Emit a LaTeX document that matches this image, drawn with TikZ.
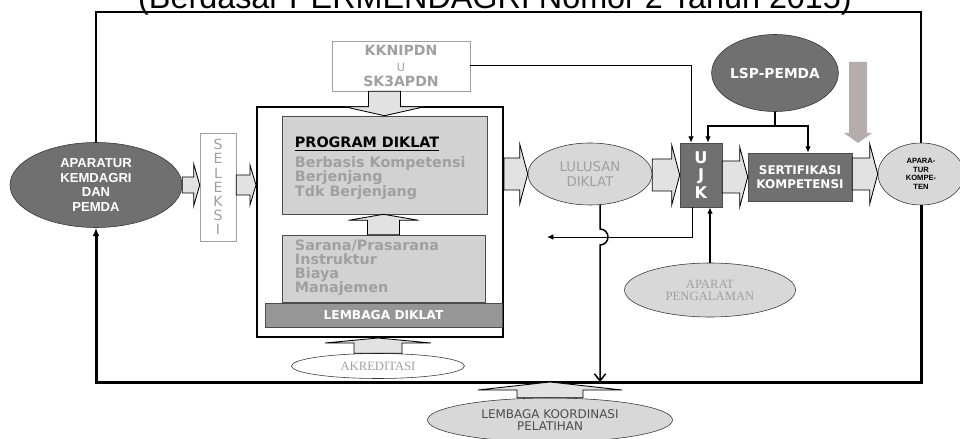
\documentclass[tikz,border=0pt]{standalone}
\usepackage{fontspec}
\setmainfont{Liberation Serif}
\setsansfont{DejaVu Sans}
\newfontfamily\arialfont{Liberation Sans}
\usepackage{tikz}
\usetikzlibrary{arrows.meta, positioning, calc, shapes.geometric}
\definecolor{AbuGelap}{RGB}{112,112,112}
\definecolor{AbuTerang}{RGB}{216,216,216}
\definecolor{AbuPanah}{RGB}{226,226,226}
\definecolor{AbuTeks}{RGB}{160,160,160}
\definecolor{AbuKotak}{RGB}{210,210,210}
\definecolor{AbuBatang}{RGB}{150,150,150}
\definecolor{AbuCoklat}{RGB}{181,172,172}
\newlength{\px}
\setlength{\px}{0.025cm}
% panah blok: gaya, dari, ke, setengah batang, setengah kepala, panjang kepala
\newcommand{\panahKanan}[6]{\path[#1] let \p1=#2, \p2=#3 in
	(\x1,{\y1+#4*\px}) -- ({\x2-#6*\px},{\y1+#4*\px}) -- ({\x2-#6*\px},{\y1+#5*\px})
	-- (\x2,\y1) -- ({\x2-#6*\px},{\y1-#5*\px}) -- ({\x2-#6*\px},{\y1-#4*\px})
	-- (\x1,{\y1-#4*\px}) -- cycle;}
\newcommand{\panahAtas}[6]{\path[#1] let \p1=#2, \p2=#3 in
	({\x1-#4*\px},\y1) -- ({\x1-#4*\px},{\y2-#6*\px}) -- ({\x1-#5*\px},{\y2-#6*\px})
	-- (\x1,\y2) -- ({\x1+#5*\px},{\y2-#6*\px}) -- ({\x1+#4*\px},{\y2-#6*\px})
	-- ({\x1+#4*\px},\y1) -- cycle;}
\newcommand{\panahBawah}[6]{\path[#1] let \p1=#2, \p2=#3 in
	({\x1-#4*\px},\y1) -- ({\x1-#4*\px},{\y2+#6*\px}) -- ({\x1-#5*\px},{\y2+#6*\px})
	-- (\x1,\y2) -- ({\x1+#5*\px},{\y2+#6*\px}) -- ({\x1+#4*\px},{\y2+#6*\px})
	-- ({\x1+#4*\px},\y1) -- cycle;}

\begin{document}
\begin{tikzpicture}[x=0.025cm, y=-0.025cm,
	elips/.style={ellipse, draw=black!80, inner sep=0pt, align=center},
	kotak/.style={rectangle, draw=black!70, inner sep=0pt, align=center},
	blok/.style={draw=black, fill=AbuPanah, line width=0.6pt},
	isi/.style={text=AbuTeks, font=\sffamily\bfseries\fontsize{10.2}{12}\selectfont},
	panah/.style={-{Latex[length=4.5pt,width=4pt]}},
	tipis/.style={line width=1*\px},
	sedang/.style={line width=1.5*\px},
	tebal/.style={line width=2*\px}]
	\useasboundingbox (0,0) rectangle (960,439);
	\clip (0,0) rectangle (960,439);
	% judul (terpotong di atas)
	\node[anchor=base, font=\arialfont\fontsize{23}{25}\selectfont] (judul) at (495,9)
		{(Berdasar PERMENDAGRI Nomor 2 Tahun 2015)};
	\coordinate (atas) at (0,12);
	\coordinate (bawah) at (0,382);
	\coordinate (ujung) at (547,237);
	% sisi kiri: aparatur dan seleksi
	\node[elips, fill=AbuGelap, text=white, minimum width=172*\px, minimum height=85*\px,
		font=\arialfont\bfseries\fontsize{9.3}{10.2}\selectfont] (aparatur) at (96,185)
		{APARATUR\\KEMDAGRI\\DAN\\PEMDA};
	\node[kotak, draw=AbuTeks, fill=white, minimum width=36*\px, minimum height=108*\px,
		text=AbuTeks, font=\sffamily\fontsize{10}{10.1}\selectfont] (seleksi) at (218,187)
		{S\\E\\L\\E\\K\\S\\I};
	% lembaga diklat dan program
	\node[draw, line width=2*\px, fill=white, minimum width=246*\px, minimum height=230*\px] (utama) at (380,222) {};
	\node[kotak, fill=AbuKotak, minimum width=205*\px, minimum height=98*\px] (program) at (384.5,165) {};
	\node[anchor=base west, font=\sffamily\bfseries\fontsize{10.2}{12}\selectfont] (judulprogram) at (290,148)
		{\underline{PROGRAM DIKLAT}};
	\foreach \t [count=\i] in {Berbasis Kompetensi, Berjenjang, Tdk Berjenjang}
		{\node[isi, anchor=base west] (program\i) at (290,153+14.5*\i) {\t};}
	\node[kotak, fill=AbuKotak, minimum width=203*\px, minimum height=67*\px] (sarana) at (383.5,268.5) {};
	\foreach \t [count=\i] in {{Sarana/Prasarana}, Instruktur, Biaya, Manajemen}
		{\node[isi, anchor=base west] (sarana\i) at (290,236+14*\i) {\t};}
	\node[kotak, fill=AbuBatang, minimum width=237*\px, minimum height=24*\px, text=white,
		font=\sffamily\bfseries\fontsize{8.7}{9}\selectfont] (lembaga) at (383.5,315) {LEMBAGA DIKLAT};
	\node[elips, fill=white, minimum width=173*\px, minimum height=25*\px, text=AbuTeks,
		font=\rmfamily\fontsize{9}{9}\selectfont] (akreditasi) at (378,366) {AKREDITASI};
	\node[kotak, draw=AbuTeks, fill=white, minimum width=138*\px, minimum height=50*\px, text=AbuTeks,
		font=\sffamily\bfseries\fontsize{10}{11}\selectfont] (kknipdn) at (401,66)
		{KKNIPDN\\{\mdseries\fontsize{8}{11}\selectfont U}\\SK3APDN};
	% sisi kanan: uji dan sertifikasi
	\node[elips, fill=AbuTerang, minimum width=124*\px, minimum height=62*\px, text=AbuTeks,
		font=\sffamily\fontsize{9.5}{10.5}\selectfont] (lulusan) at (590,174) {LULUSAN\\DIKLAT};
	\node[kotak, fill=AbuGelap, minimum width=42*\px, minimum height=64*\px, text=white,
		font=\sffamily\bfseries\fontsize{11.5}{12.5}\selectfont] (ujk) at (701,175) {U\\J\\K};
	\node[kotak, fill=AbuGelap, minimum width=104*\px, minimum height=48*\px, text=white,
		font=\sffamily\bfseries\fontsize{8.5}{10}\selectfont] (sertifikasi) at (800,177) {SERTIFIKASI\\KOMPETENSI};
	\node[elips, fill=AbuGelap, text=white, minimum width=121*\px, minimum height=77*\px,
		font=\sffamily\bfseries\fontsize{9.8}{11}\selectfont] (lsp) at (775,73) {LSP-PEMDA};
	\node[elips, fill=AbuTerang, minimum width=86*\px, minimum height=62*\px,
		font=\arialfont\bfseries\fontsize{5.4}{6}\selectfont] (kompeten) at (921,174) {APARA-\\TUR\\KOMPE-\\TEN};
	\node[elips, fill=AbuTerang, minimum width=171*\px, minimum height=54*\px, text=AbuTeks,
		font=\rmfamily\fontsize{9}{8.5}\selectfont] (pengalaman) at (710,290) {APARAT\\PENGALAMAN};
	\node[elips, fill=AbuTerang, minimum width=245*\px, minimum height=44*\px, text=black!70,
		font=\sffamily\fontsize{8.5}{8}\selectfont] (koordinasi) at (550,420) {LEMBAGA KOORDINASI\\PELATIHAN};
	% bingkai umpan balik
	\draw[tebal] (kompeten.north) -- (kompeten.north |- atas) -| (aparatur.north);
	\draw[line width=3*\px, -{Latex[length=6pt,width=5pt]}] (kompeten.south) -- (kompeten.south |- bawah) -| (aparatur.south);
	% panah blok
	\panahKanan{blok}{(aparatur.east)}{(seleksi.west)}{8}{21}{6}
	\panahKanan{blok}{(seleksi.east |- aparatur.east)}{(utama.west |- aparatur.east)}{10}{20}{6}
	\foreach \a/\b in {utama/lulusan, lulusan/ujk, ujk/sertifikasi, sertifikasi/kompeten}
		{\panahKanan{blok}{(\a.east |- \b.west)}{(\b.west)}{16}{30}{8}}
	\panahBawah{blok}{(program.north |- kknipdn.south)}{(program.north)}{16}{40}{9}
	\panahAtas{blok}{(sarana.north)}{(program.south)}{16}{35}{6}
	\panahAtas{blok}{(akreditasi.north)}{(utama.south)}{24}{53}{5}
	\panahAtas{blok}{(koordinasi.north)}{(koordinasi.north |- bawah)}{33}{72}{8}
	\panahBawah{fill=AbuCoklat}{(858,62)}{(858,143)}{9}{14}{10}
	% garis penghubung
	\draw[tipis, panah] (kknipdn.east) -| ($(ujk.north)+(-10,0)$);
	\draw[tebal] (lsp.south) -- ++(0,14) coordinate (cabang);
	\draw[tebal, panah] (cabang) -| ($(ujk.north)+(7,0)$);
	\draw[tebal, panah] (cabang) -| ($(sertifikasi.north)+(8,0)$);
	\draw[tebal, panah] (pengalaman.north) -- (pengalaman.north |- ujk.south);
	\draw[tipis, panah] ($(ujk.south)+(-9,0)$) |- (ujung);
	\draw[sedang, -{Straight Barb[length=5pt,width=8pt]}] (lulusan.-72) -- ($(lulusan.-72 |- ujung)+(0,-8)$)
		arc[start angle=90, end angle=-90, radius=8*\px] -- (lulusan.-72 |- bawah);
\end{tikzpicture}
\end{document}
